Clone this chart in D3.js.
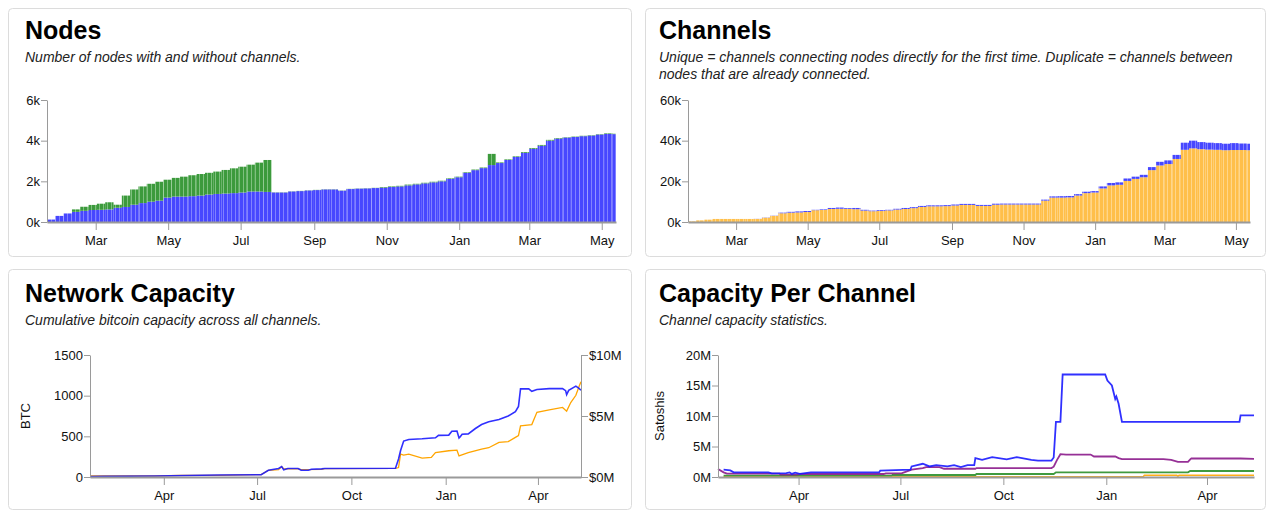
<!DOCTYPE html>
<html><head><meta charset="utf-8">
<script src="https://cdn.jsdelivr.net/npm/d3@7"></script>
<style>
body{margin:0;background:#fff;}
svg text{font-family:"Liberation Sans",Arial,Helvetica,sans-serif;}
</style></head><body>
<svg id="c" width="1277" height="518"></svg>
<script>
// ---------------- DATA ----------------
const firstWeek = "2018-01-19";
const domainStart = "2018-01-19";
const domainEnd = "2019-05-13";

// Nodes (weekly)
const nodesWithChannels = [120,300,420,500,550,590,600,620,700,740,
 850,930,1000,1050,1200,1250,1250,1270,1300,1350,
 1380,1400,1420,1450,1500,1500,1480,1450,1450,1500,
 1520,1550,1570,1600,1600,1540,1620,1640,1650,1670,
 1690,1720,1750,1800,1850,1900,1950,2000,2120,2200,
 2420,2550,2650,2800,2900,3050,3200,3400,3600,3750,
 4000,4100,4150,4180,4220,4250,4300,4330,4320];
const nodesWithoutChannels = [0,0,0,120,200,250,300,350,150,560,
 750,820,880,930,880,920,980,1030,1060,1070,
 1100,1160,1220,1270,1320,1420,1570,10,10,10,
 10,10,10,10,10,10,10,10,10,10,
 30,30,30,40,30,30,30,30,30,30,
 30,30,30,550,30,30,30,40,40,40,
 40,30,20,20,20,20,20,30,20];
const nodesTicks = [0,2000,4000,6000];

// Channels (weekly)
const channelsUnique = [300,800,1150,1500,1500,1500,1500,1500,1500,2100,
 3000,4300,4600,4700,4900,5800,5900,6400,6500,6400,
 6300,5600,5300,5400,5700,6100,6400,6800,7400,7700,
 7700,7800,8100,8400,8400,7900,7900,8500,8600,8600,
 8600,8600,8600,10500,12000,12000,12100,13000,14200,14500,
 16500,18000,18300,20200,21200,22000,25500,27800,28500,31000,
 35500,36200,35800,35600,35500,35300,35400,35400,35300];
const channelsDuplicate = [0,0,0,0,0,0,0,0,50,100,
 100,300,400,500,500,200,300,500,600,400,
 600,400,300,400,300,400,500,500,500,500,
 500,500,500,500,500,500,500,500,450,450,
 450,450,450,500,600,700,700,700,700,700,
 1000,1200,1200,1200,1100,1200,1500,1800,1800,2000,
 3500,3800,3500,3400,3300,3200,3400,3200,3200];
const channelsTicks = [0,20000,40000,60000];

// Network capacity
const capacityBTC = [["2018-01-19",5],["2018-02-01",8],["2018-03-23",12],["2018-05-24",25],["2018-07-05",29],
 ["2018-07-12",83],["2018-07-22",104],["2018-07-25",129],["2018-07-27",88],["2018-07-31",104],["2018-08-10",104],
 ["2018-08-13",83],["2018-08-20",83],["2018-08-23",96],["2018-09-02",100],["2018-09-05",105],["2018-11-13",108],
 ["2018-11-16",221],["2018-11-18",325],["2018-11-21",442],["2018-11-26",462],["2018-12-09",470],["2018-12-22",482],
 ["2018-12-25",512],["2019-01-04",515],["2019-01-07",562],["2019-01-12",565],["2019-01-14",479],["2019-01-15",492],
 ["2019-01-17",525],["2019-01-23",530],["2019-01-30",596],["2019-02-05",646],["2019-02-12",679],["2019-02-22",708],
 ["2019-03-03",750],["2019-03-10",804],["2019-03-13",867],["2019-03-15",1083],["2019-03-23",1083],["2019-03-26",1054],
 ["2019-03-31",1075],["2019-04-12",1087],["2019-04-25",1087],["2019-04-28",1062],["2019-04-29",1012],["2019-05-01",1065],
 ["2019-05-08",1117],["2019-05-11",1090],["2019-05-13",1067]];
const capacityUSD = [["2018-01-19",0.08e6],["2018-03-23",0.08e6],["2018-04-18",0.14e6],["2018-05-24",0.14e6],["2018-07-05",0.2e6],
 ["2018-07-12",0.55e6],["2018-07-22",0.6e6],["2018-07-25",0.85e6],["2018-07-27",0.66e6],["2018-08-10",0.66e6],
 ["2018-08-13",0.6e6],["2018-09-02",0.62e6],["2018-09-05",0.69e6],["2018-11-13",0.7e6],["2018-11-16",0.77e6],
 ["2018-11-18",1.87e6],["2018-11-21",1.8e6],["2018-11-26",1.87e6],["2018-12-09",1.54e6],["2018-12-18",1.6e6],
 ["2018-12-22",2.0e6],["2019-01-04",2.15e6],["2019-01-12",2.2e6],["2019-01-14",1.73e6],["2019-01-23",2.0e6],
 ["2019-02-05",2.29e6],["2019-02-12",2.4e6],["2019-02-22",2.84e6],["2019-03-03",2.9e6],["2019-03-10",3.25e6],
 ["2019-03-13",3.4e6],["2019-03-15",4.2e6],["2019-03-26",4.3e6],["2019-03-31",5.3e6],["2019-04-12",5.5e6],
 ["2019-04-25",5.7e6],["2019-04-29",5.4e6],["2019-05-03",6.1e6],["2019-05-08",6.7e6],["2019-05-11",7.4e6],["2019-05-13",7.8e6]];
const btcTicks = [0,500,1000,1500];
const usdTicks = [0,5e6,10e6];

// Capacity per channel (millions of satoshis)
const perChannelBlue = [["2018-01-24",1.2],["2018-01-30",1.08],["2018-02-02",0.76],["2018-03-05",0.76],["2018-03-08",0.6],
 ["2018-03-21",0.65],["2018-03-24",0.76],["2018-03-26",0.5],["2018-03-29",0.7],["2018-04-02",0.5],["2018-04-12",0.76],
 ["2018-06-12",0.76],["2018-06-13",1.03],["2018-07-10",1.2],["2018-07-11",1.73],["2018-07-21",2.17],["2018-07-27",1.73],
 ["2018-08-02",1.95],["2018-08-12",1.73],["2018-08-18",1.95],["2018-08-24",1.62],["2018-08-30",1.95],["2018-09-05",1.95],
 ["2018-09-06",3.09],["2018-09-12",2.8],["2018-09-21",3.25],["2018-10-04",2.9],["2018-10-13",3.25],["2018-10-26",2.8],
 ["2018-11-01",2.7],["2018-11-13",2.7],["2018-11-15",3.2],["2018-11-17",9.05],["2018-11-21",9.05],["2018-11-23",16.8],
 ["2018-12-31",16.8],["2019-01-02",15.8],["2019-01-06",15.0],["2019-01-09",12.8],["2019-01-10",13.2],["2019-01-12",12.0],
 ["2019-01-15",9.05],["2019-04-30",9.05],["2019-05-01",10.1],["2019-05-13",10.1]];
const perChannelPurple = [["2018-01-19",1.3],["2018-01-24",0.76],["2018-01-27",0.54],["2018-03-15",0.54],["2018-03-16",0.38],
 ["2018-03-30",0.38],["2018-04-02",0.49],["2018-06-16",0.49],["2018-06-18",0.6],["2018-07-02",0.6],["2018-07-05",0.8],
 ["2018-07-11",1.2],["2018-07-21",1.46],["2018-07-24",1.63],["2018-08-05",1.63],["2018-08-09",1.35],["2018-09-06",1.35],
 ["2018-09-07",1.46],["2018-11-13",1.46],["2018-11-15",1.7],["2018-11-18",2.8],["2018-11-21",3.74],["2018-11-26",3.68],
 ["2018-12-18",3.68],["2018-12-21",3.36],["2019-01-09",3.36],["2019-01-12",3.09],["2019-01-15",2.92],["2019-02-21",2.92],
 ["2019-02-28",2.82],["2019-03-06",2.49],["2019-03-15",2.49],["2019-03-17",2.9],["2019-03-18",3.03],["2019-05-01",3.03],
 ["2019-05-13",2.98]];
const perChannelGreen = [["2018-01-24",0.22],["2018-06-23",0.22],["2018-06-24",0.33],["2018-09-06",0.33],["2018-09-07",0.49],
 ["2018-11-15",0.49],["2018-11-17",0.76],["2019-03-15",0.76],["2019-03-17",0.98],["2019-05-13",0.98]];
const perChannelOrange = [["2018-01-24",0.05],["2019-02-03",0.05],["2019-02-04",0.27],["2019-03-05",0.27],["2019-03-06",0.15],
 ["2019-03-07",0.27],["2019-05-13",0.27]];
const satTicks = [0,5,10,15,20];

// ---------------- DRAW ----------------
const parse = d3.timeParse("%Y-%m-%d");
const d0 = parse(domainStart), d1 = parse(domainEnd), w0 = parse(firstWeek);
const svg = d3.select("#c");
const defs = svg.append("defs");
function stripe(id, dark, light){
  const p = defs.append("pattern").attr("id",id).attr("patternUnits","userSpaceOnUse")
    .attr("width",4).attr("height",8);
  p.append("rect").attr("width",4).attr("height",8).attr("fill",light);
  p.append("rect").attr("width",3).attr("height",8).attr("fill",dark);
}
stripe("pBlue","#4747ff","#8181ff");
stripe("pGreen","#3c9a3c","#7fc07f");
stripe("pOrange","#ffbf4a","#ffd68a");

// panels
const panels = [
 {x:8.5,y:8.5,w:623,h:248},{x:645.5,y:8.5,w:620,h:248},
 {x:8.5,y:269.5,w:623,h:240},{x:645.5,y:269.5,w:620,h:240}];
svg.selectAll("rect.panel").data(panels).join("rect").attr("class","panel")
  .attr("x",d=>d.x).attr("y",d=>d.y).attr("width",d=>d.w).attr("height",d=>d.h)
  .attr("rx",4).attr("fill","#fff").attr("stroke","#dcdcdc");

function title(x,y,t){svg.append("text").attr("x",x).attr("y",y).attr("font-size",25)
  .attr("font-weight","bold").attr("fill","#000").text(t);}
function sub(x,y,t){svg.append("text").attr("x",x).attr("y",y).attr("font-size",14)
  .attr("font-style","italic").attr("fill","#222").text(t);}
title(25,39,"Nodes"); sub(25,62,"Number of nodes with and without channels.");
title(659,39,"Channels");
sub(659,62,"Unique = channels connecting nodes directly for the first time. Duplicate = channels between");
sub(659,79,"nodes that are already connected.");
title(25,302,"Network Capacity"); sub(25,325,"Cumulative bitcoin capacity across all channels.");
title(659,302,"Capacity Per Channel"); sub(659,325,"Channel capacity statistics.");

function styleAxis(g, domainW){
  g.selectAll(".domain").attr("stroke","#9a9a9a").attr("stroke-width",domainW||1);
  g.selectAll(".tick line").attr("stroke","#9a9a9a");
  g.selectAll(".tick text").attr("fill","#111").attr("font-size",13)
    .attr("font-family",'"Liberation Sans",Arial,sans-serif');
  g.attr("font-family",null);
}
function xAxis(x, y0, every){
  const g = svg.append("g").attr("transform",`translate(0,${y0})`)
    .call(d3.axisBottom(x).ticks(d3.timeMonth.every(every)).tickFormat(d3.timeFormat("%b"))
      .tickSize(8).tickPadding(6).tickSizeOuter(0));
  styleAxis(g,2);
}
function yAxisL(y, x0, vals, fmt){
  const g = svg.append("g").attr("transform",`translate(${x0},0)`)
    .call(d3.axisLeft(y).tickValues(vals).tickFormat(fmt).tickSize(6).tickPadding(1).tickSizeOuter(0));
  styleAxis(g,1);
}

// ---- bar charts
const weeks = nodesWithChannels.map((_,i)=>d3.timeDay.offset(w0,7*i));
function barChart(x0,x1,yTop,yBot,maxY,lower,upper,fillLow,fillUp,ticks){
  const x = d3.scaleTime().domain([d0,d1]).range([x0,x1]);
  const y = d3.scaleLinear().domain([0,maxY]).range([yBot,yTop]);
  const rows = weeks.map((w,i)=>({w, a:lower[i], b:upper[i]}));
  const stack = d3.stack().keys(["a","b"])(rows);
  const g = svg.append("g");
  const bx = d=>x(d.data.w);
  const bw = d=>Math.min(x(d3.timeDay.offset(d.data.w,7)),x1)-x(d.data.w);
  g.selectAll("rect.l").data(stack[0]).join("rect")
    .attr("x",bx).attr("width",bw).attr("y",d=>y(d[1])).attr("height",d=>y(d[0])-y(d[1]))
    .attr("fill",`url(#${fillLow})`);
  g.selectAll("rect.u").data(stack[1]).join("rect")
    .attr("x",bx).attr("width",bw).attr("y",d=>y(d[1])).attr("height",d=>y(d[0])-y(d[1]))
    .attr("fill",`url(#${fillUp})`);
  yAxisL(y,x0,ticks,d=>(d/1000)+"k");
  xAxis(x,yBot,2);
}
barChart(47,616,100,222,6000,nodesWithChannels,nodesWithoutChannels,"pBlue","pGreen",nodesTicks);
barChart(688,1250,100,222,60000,channelsUnique,channelsDuplicate,"pOrange","pBlue",channelsTicks);

// ---- network capacity
(function(){
  const x0=90,x1=581,yT=355,yB=477;
  const x = d3.scaleTime().domain([d0,d1]).range([x0,x1]);
  const yB_ = d3.scaleLinear().domain([0,1500]).range([yB,yT]);
  const yU = d3.scaleLinear().domain([0,10e6]).range([yB,yT]);
  svg.append("path").datum(capacityUSD).attr("fill","none").attr("stroke","#ffa500").attr("stroke-width",1.3)
    .attr("d",d3.line().x(d=>x(parse(d[0]))).y(d=>yU(d[1])));
  svg.append("path").datum(capacityBTC).attr("fill","none").attr("stroke","#1a1aff").attr("stroke-width",1.6)
    .attr("stroke-opacity",0.9)
    .attr("d",d3.line().x(d=>x(parse(d[0]))).y(d=>yB_(d[1])));
  yAxisL(yB_,x0,btcTicks,d=>d);
  const g = svg.append("g").attr("transform",`translate(${x1},0)`)
    .call(d3.axisRight(yU).tickValues(usdTicks).tickFormat(d=>"$"+(d/1e6)+"M").tickSize(7).tickPadding(1).tickSizeOuter(0));
  styleAxis(g,1);
  xAxis(x,yB,3);
  svg.append("text").attr("transform",`translate(30,${(yT+yB)/2}) rotate(-90)`).attr("text-anchor","middle")
    .attr("font-size",13).attr("fill","#111").text("BTC");
})();

// ---- capacity per channel
(function(){
  const x0=718,x1=1254,yT=355,yB=477;
  const x = d3.scaleTime().domain([d0,d1]).range([x0,x1]);
  const y = d3.scaleLinear().domain([0,20]).range([yB,yT]);
  const line = d3.line().x(d=>x(parse(d[0]))).y(d=>y(d[1]));
  const series = [[perChannelOrange,"#ffa500",1.5],[perChannelGreen,"#2a8f2a",1.8],[perChannelPurple,"#8b1a8b",1.8],[perChannelBlue,"#1a1aff",1.8]];
  series.forEach(([data,c,w])=>{
    svg.append("path").datum(data).attr("fill","none").attr("stroke",c).attr("stroke-width",w)
      .attr("stroke-opacity",0.9).attr("d",line);
  });
  yAxisL(y,x0,satTicks,d=>d+"M");
  xAxis(x,yB,3);
  svg.append("text").attr("transform",`translate(664,${(yT+yB)/2}) rotate(-90)`).attr("text-anchor","middle")
    .attr("font-size",13).attr("fill","#111").text("Satoshis");
})();
</script></body></html>
